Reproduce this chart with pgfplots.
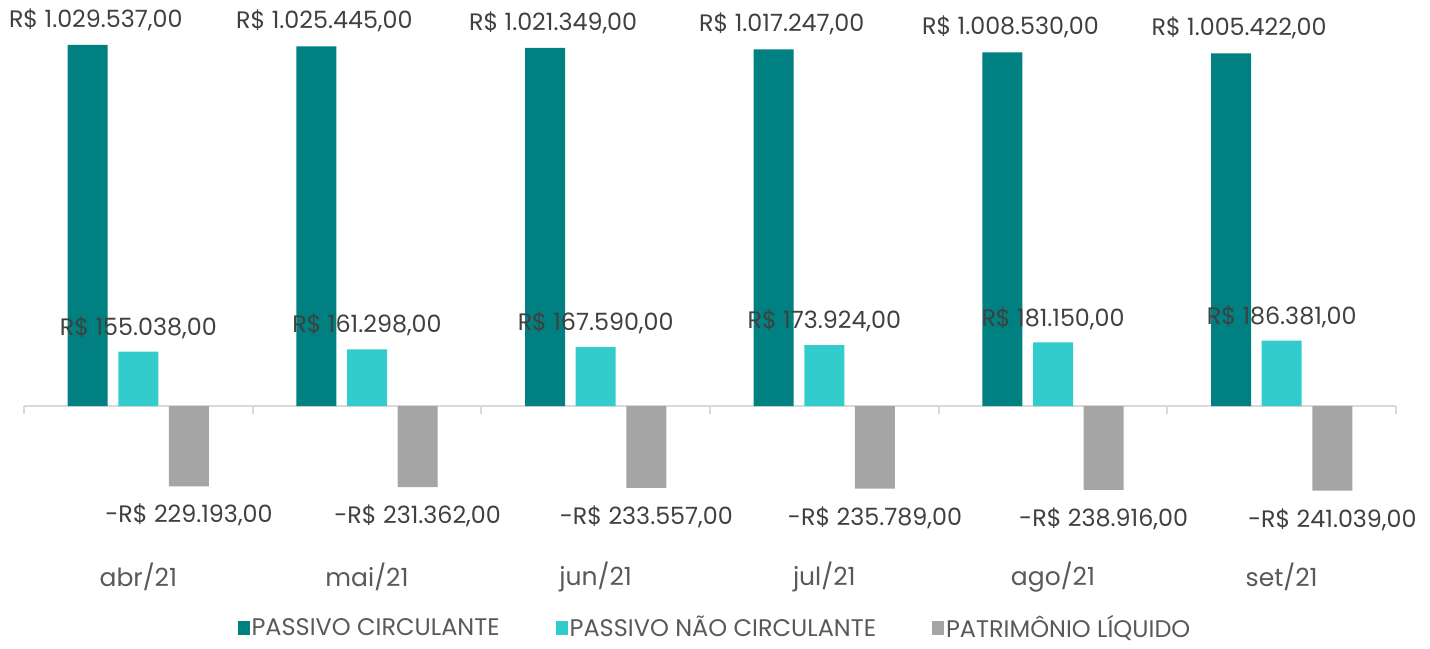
\documentclass[border=0pt]{standalone}
\usepackage{pgfplots}
\pgfplotsset{compat=1.18}
\usepackage{fontspec}
\setmainfont{Poppins}
\definecolor{cTeal}{HTML}{008080}
\definecolor{cCyan}{HTML}{33CCCC}
\definecolor{cGrey}{HTML}{A5A5A5}
\definecolor{cText}{HTML}{404040}
\definecolor{cLeg}{HTML}{595959}
\definecolor{cAxis}{HTML}{D9D9D9}
\begin{document}
\begin{tikzpicture}
\begin{axis}[
  scale only axis, width=686pt, height=320.5pt,
  xmin=-0.5, xmax=5.5, ymin=-670180, ymax=1157850,
  axis y line=none, axis x line=middle,
  x axis line style={draw=cAxis, line width=1pt, -},
  xtick={-0.5,0.5,...,5.5}, xticklabels={},
  tick align=outside, major tick length=4pt,
  x tick style={draw=cAxis, line width=1pt},
  ytick=\empty,
  clip=false,
  ybar, bar width=20pt,
  point meta=explicit symbolic,
  nodes near coords,
  every node near coord/.append style={font=\fontsize{11.9}{13}\selectfont, text=cText},
  legend columns=3,
  legend style={at={(0.5036,0.02)}, anchor=center, draw=none, fill=none,
    font=\fontsize{12}{14}\selectfont, text=cLeg,
    nodes={inner xsep=1pt},
    /tikz/every even column/.append style={column sep=27pt}},
  legend image code/.code={\fill[#1] (0pt,-3.5pt) rectangle (6pt,3.5pt);},
]
\addplot[fill=cTeal, draw=none, bar shift=-25.3pt,
  every node near coord/.append style={yshift=3.5pt, xshift=4pt}]
  table[col sep=semicolon, x=x, y=y, meta=l] {
x;y;l
0;1029537;R\$ 1.029.537,00
1;1025445;R\$ 1.025.445,00
2;1021349;R\$ 1.021.349,00
3;1017247;R\$ 1.017.247,00
4;1008530;R\$ 1.008.530,00
5;1005422;R\$ 1.005.422,00
};
\addlegendentry{PASSIVO CIRCULANTE}
\addplot[fill=cCyan, draw=none, bar shift=0pt,
  every node near coord/.append style={yshift=3pt}]
  table[col sep=semicolon, x=x, y=y, meta=l] {
x;y;l
0;155038;R\$ 155.038,00
1;161298;R\$ 161.298,00
2;167590;R\$ 167.590,00
3;173924;R\$ 173.924,00
4;181150;R\$ 181.150,00
5;186381;R\$ 186.381,00
};
\addlegendentry{PASSIVO NÃO CIRCULANTE}
\addplot[fill=cGrey, draw=none, bar shift=25.3pt,
  every node near coord/.append style={yshift=-23.5pt}]
  table[col sep=semicolon, x=x, y=y, meta=l] {
x;y;l
0;-229193;-R\$ 229.193,00
1;-231362;-R\$ 231.362,00
2;-233557;-R\$ 233.557,00
3;-235789;-R\$ 235.789,00
4;-238916;-R\$ 238.916,00
5;-241039;-R\$ 241.039,00
};
\addlegendentry{PATRIMÔNIO LÍQUIDO}
\node[font=\fontsize{12.5}{14}\selectfont, text=cLeg] at (axis cs:0,-487670) {abr/21};
\node[font=\fontsize{12.5}{14}\selectfont, text=cLeg] at (axis cs:1,-487670) {mai/21};
\node[font=\fontsize{12.5}{14}\selectfont, text=cLeg] at (axis cs:2,-487670) {jun/21};
\node[font=\fontsize{12.5}{14}\selectfont, text=cLeg] at (axis cs:3,-487670) {jul/21};
\node[font=\fontsize{12.5}{14}\selectfont, text=cLeg] at (axis cs:4,-487670) {ago/21};
\node[font=\fontsize{12.5}{14}\selectfont, text=cLeg] at (axis cs:5,-487670) {set/21};
\end{axis}
\path[use as bounding box] ([xshift=-12pt]current axis.south west) rectangle ([xshift=17pt]current axis.north east);
\end{tikzpicture}
\end{document}
